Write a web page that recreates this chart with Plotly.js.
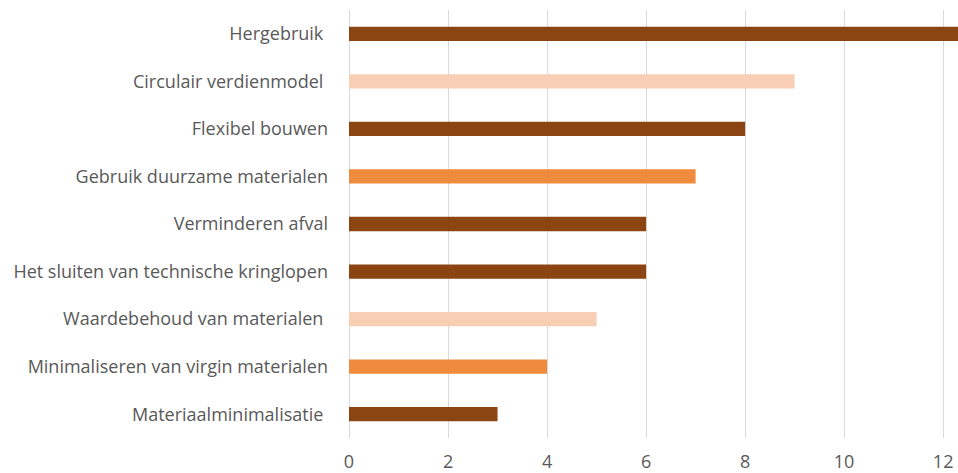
<!DOCTYPE html>
<html><head><meta charset="utf-8">
<script src="https://cdn.plot.ly/plotly-3.0.1.min.js"></script>
<style>body{margin:0;background:#fff}#c{width:958px;height:473px}</style>
</head><body><div id="c"></div>
<script>
const categories = ["Hergebruik\u00a0", "Circulair verdienmodel\u00a0", "Flexibel bouwen", "Gebruik duurzame materialen", "Verminderen afval", "Het sluiten van technische kringlopen", "Waardebehoud van materialen\u00a0", "Minimaliseren van virgin materialen", "Materiaalminimalisatie\u00a0"];
const values = [13, 9, 8, 7, 6, 6, 5, 4, 3];
const barColors = ["#8B4513", "#F8CFB5", "#8B4513", "#F08A3C", "#8B4513", "#8B4513", "#F8CFB5", "#F08A3C", "#8B4513"];
const xTicks = [0, 2, 4, 6, 8, 10, 12];

Plotly.newPlot("c", [{
  type: "bar", orientation: "h",
  x: values, y: categories,
  width: 0.3,
  marker: {color: barColors, line: {width: 0}},
  hoverinfo: "none"
}], {
  width: 958, height: 473,
  margin: {l: 349, r: 0, t: 10, b: 35},
  paper_bgcolor: "#fff", plot_bgcolor: "#fff",
  font: {family: "'Open Sans', sans-serif", size: 18, color: "#595959"},
  showlegend: false,
  xaxis: {range: [0, 12.3], tickvals: xTicks, ticktext: xTicks.map(String), showgrid: true, gridcolor: "#D9D9D9", gridwidth: 1, zeroline: true, zerolinecolor: "#D9D9D9", zerolinewidth: 1, showline: false, ticks: "", ticklabelstandoff: 11, tickfont: {size: 18}, fixedrange: true},
  yaxis: {type: "category", autorange: "reversed", showgrid: false, zeroline: false, showline: false, ticks: "", ticklabelstandoff: 20, fixedrange: true}
}, {staticPlot: true});
</script></body></html>
